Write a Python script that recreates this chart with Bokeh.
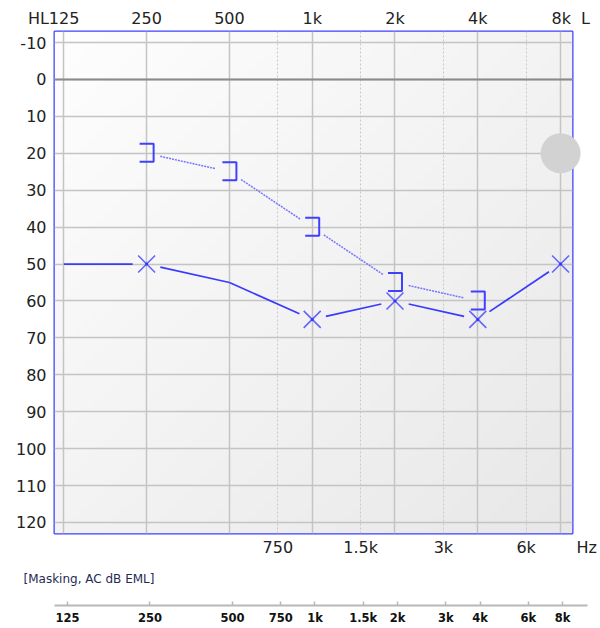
import numpy as np
from bokeh.plotting import figure
from bokeh.models import FixedTicker, Range1d, LogAxis, Span
from bokeh.layouts import column
from bokeh.embed import file_html
from bokeh.resources import INLINE

# ---------------- data ----------------
NB = "\u00a0"
octave_freqs = [125, 250, 500, 1000, 2000, 4000, 8000]
octave_labels = ["HL125" + NB * 4, "250", "500", "1k", "2k", "4k", NB * 4 + "8k" + NB * 2 + "L"]
mid_freqs = [750, 1500, 3000, 6000]
mid_labels = ["750", "1.5k", "3k", NB * 12 + "6k" + NB * 8 + "Hz"]
db_ticks = list(range(-10, 130, 10))
db_labels = [str(v) for v in db_ticks]
ruler_freqs = [125, 250, 500, 750, 1000, 1500, 2000, 3000, 4000, 6000, 8000]
ruler_labels = ["125", "250", "500", "750", "1k", "1.5k", "2k", "3k", "4k", "6k", "8k"]

ac_freqs = [125, 250, 500, 1000, 2000, 4000, 8000]
ac_db = [50, 50, 55, 65, 60, 65, 50]
ac_marked = [False, True, False, True, True, True, True]

mask_freqs = [250, 500, 1000, 2000, 4000]
mask_db = [20, 25, 40, 55, 60]

circle_freqs = [8000]
circle_db = [20]

zero_db = 0

# ---------------- geometry ----------------
X_START, X_END = 115.6, 8840.0
Y_TOP, Y_BOTTOM = -13.0, 123.0
FRAME_W, FRAME_H = 518, 502
OPX = FRAME_W / np.log2(X_END / X_START)   # px per octave
DPX = FRAME_H / (Y_BOTTOM - Y_TOP)          # px per dB
GAP = 14.0
FONT = "DejaVu Sans"


def shorten(f0, v0, f1, v1, g0, g1):
    x0, y0 = np.log2(f0) * OPX, v0 * DPX
    x1, y1 = np.log2(f1) * OPX, v1 * DPX
    L = np.hypot(x1 - x0, y1 - y0)
    ux, uy = (x1 - x0) / L, (y1 - y0) / L
    nx0, ny0 = x0 + ux * g0, y0 + uy * g0
    nx1, ny1 = x1 - ux * g1, y1 - uy * g1
    return 2 ** (nx0 / OPX), ny0 / DPX, 2 ** (nx1 / OPX), ny1 / DPX


p = figure(width=600, height=560, x_axis_type="log",
           x_range=Range1d(X_START, X_END), y_range=Range1d(Y_BOTTOM, Y_TOP),
           x_axis_location="above", output_backend="svg", toolbar_location=None,
           min_border_left=54, min_border_right=28, min_border_top=31, min_border_bottom=27)
p.frame_align = False
p.outline_line_color = "#3f3fff"
p.outline_line_width = 2
p.background_fill_color = "#f3f3f3"
p.border_fill_color = "white"

# background gradient
n = 64
ii, jj = np.mgrid[0:n, 0:n]
t = (ii / (n - 1) + jj / (n - 1)) / 2.0
c = (254 - t * 22).astype(np.uint8)
img = np.empty((n, n), dtype=np.uint32)
view = img.view(dtype=np.uint8).reshape((n, n, 4))
view[..., 0] = c
view[..., 1] = c
view[..., 2] = c
view[..., 3] = 255
p.image_rgba(image=[img], x=X_START, y=Y_TOP, dw=X_END - X_START, dh=Y_BOTTOM - Y_TOP, level="image")

# axes
top_ticker = FixedTicker(ticks=octave_freqs, minor_ticks=mid_freqs)
ax_top = p.xaxis[0]
ax_top.ticker = top_ticker
ax_top.major_label_overrides = {f: l for f, l in zip(octave_freqs, octave_labels)}
ax_bottom = LogAxis(ticker=FixedTicker(ticks=mid_freqs, minor_ticks=[]),
                    major_label_overrides={f: l for f, l in zip(mid_freqs, mid_labels)})
p.add_layout(ax_bottom, "below")
for ax in (ax_top, ax_bottom, p.yaxis[0]):
    ax.axis_line_color = None
    ax.major_tick_line_color = None
    ax.minor_tick_line_color = None
    ax.major_tick_in = 0
    ax.major_tick_out = 0
    ax.minor_tick_in = 0
    ax.minor_tick_out = 0
    ax.major_label_text_font = FONT
    ax.major_label_text_font_size = "16px"
    ax.major_label_text_color = "#222222"
ax_top.major_label_standoff = 4
ax_bottom.major_label_standoff = 4

p.yaxis.ticker = FixedTicker(ticks=db_ticks)
p.yaxis.major_label_overrides = {v: l for v, l in zip(db_ticks, db_labels)}
p.yaxis.major_label_standoff = 8

p.xgrid.ticker = top_ticker
p.xgrid.grid_line_color = "#c4c4c4"
p.xgrid.grid_line_width = 1.5
p.xgrid.minor_grid_line_color = "#c8c8c8"
p.xgrid.minor_grid_line_dash = "2 2"
p.xgrid.minor_grid_line_width = 1
p.ygrid.ticker = FixedTicker(ticks=db_ticks)
p.ygrid.grid_line_color = "#c4c4c4"
p.ygrid.grid_line_width = 1.5

p.add_layout(Span(location=zero_db, dimension="width", line_color="#8a8a8a", line_width=2))

# AC solid line with gaps at markers
sx0, sy0, sx1, sy1 = [], [], [], []
for k in range(len(ac_freqs) - 1):
    a, b, cc, d = shorten(ac_freqs[k], ac_db[k], ac_freqs[k + 1], ac_db[k + 1],
                          GAP if ac_marked[k] else 0, GAP if ac_marked[k + 1] else 0)
    sx0.append(a); sy0.append(b); sx1.append(cc); sy1.append(d)
p.segment(sx0, sy0, sx1, sy1, line_color="#3a3aff", line_width=1.7)

mx = [f for f, m in zip(ac_freqs, ac_marked) if m]
my = [v for v, m in zip(ac_db, ac_marked) if m]
p.scatter(mx, my, marker="x", size=24, line_color="#6464ff", line_width=1.6)
p.scatter(mx, my, marker="circle", size=3, fill_color="#3030ff", line_color=None)

# masking dotted line
dx0, dy0, dx1, dy1 = [], [], [], []
for k in range(len(mask_freqs) - 1):
    a, b, cc, d = shorten(mask_freqs[k], mask_db[k], mask_freqs[k + 1], mask_db[k + 1], GAP, GAP)
    dx0.append(a); dy0.append(b); dx1.append(cc); dy1.append(d)
p.segment(dx0, dy0, dx1, dy1, line_color="#7474ff", line_width=1.5, line_dash="2 1")

# brackets "]"
bw = 7.0 / OPX
bxs, bys = [], []
for f, v in zip(mask_freqs, mask_db):
    xl, xr = f * 2 ** (-bw), f * 2 ** (bw)
    yt, yb = v - 9.5 / DPX, v + 8.5 / DPX
    bxs.append([xl, xr, xr, xl])
    bys.append([yt, yt, yb, yb])
p.multi_line(bxs, bys, line_color="#4040ff", line_width=2)

# grey circle
p.scatter(circle_freqs, circle_db, marker="circle", size=40, fill_color="#d2d2d2",
          line_color=None, level="overlay")

# ---------------- ruler figure ----------------
p2 = figure(width=600, height=67, x_axis_type="log", x_range=Range1d(112.1, 9869.0),
            y_range=Range1d(0, 1), output_backend="svg", toolbar_location=None,
            min_border_left=54, min_border_right=13, min_border_top=28, min_border_bottom=20,
            y_axis_location=None)
p2.frame_align = False
p2.outline_line_color = None
p2.grid.visible = False
p2.background_fill_color = "white"
p2.title.text = "[Masking, AC dB EML]"
p2.title.align = "left"
p2.title.offset = -31
p2.title.text_font = FONT
p2.title.text_font_size = "12px"
p2.title.text_font_style = "normal"
p2.title.text_color = "#1f2a55"
p2.title.standoff = 6
rx = p2.xaxis[0]
rx.ticker = FixedTicker(ticks=ruler_freqs, minor_ticks=[])
rx.major_label_overrides = {f: l for f, l in zip(ruler_freqs, ruler_labels)}
rx.axis_line_color = "#b8b8b8"
rx.axis_line_width = 2
rx.major_tick_line_color = "#b8b8b8"
rx.major_tick_line_width = 1.5
rx.major_tick_in = 4
rx.major_tick_out = 0
rx.minor_tick_line_color = None
rx.major_label_standoff = 5
rx.major_label_text_font = FONT
rx.major_label_text_font_size = "11.5px"
rx.major_label_text_font_style = "bold"
rx.major_label_text_color = "#111111"

layout = column(p, p2)
open("out.html", "w").write(file_html(layout, INLINE))
